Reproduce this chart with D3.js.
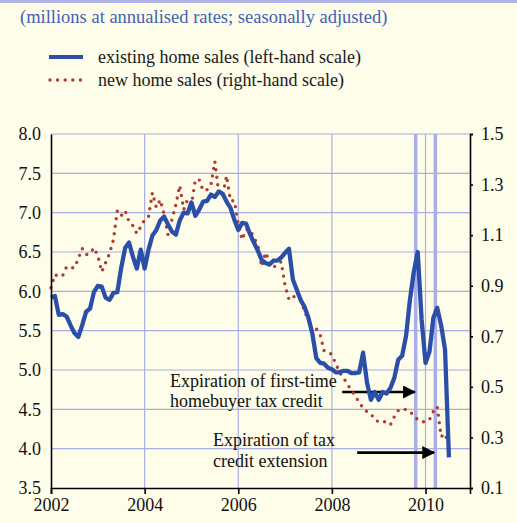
<!DOCTYPE html>
<html>
<head>
<meta charset="utf-8">
<script src="https://cdn.jsdelivr.net/npm/d3@7"></script>
<style>
  body { margin: 0; background: #fefde9; }
  svg { display: block; }
  text { font-family: "Liberation Serif", "Times New Roman", serif; }
</style>
</head>
<body>
<svg id="chart" width="517" height="523"></svg>
<script>
// monthly values, Jan 2002 onwards
var startYear = 2002;
var existingSales = [5.92,5.94,5.70,5.71,5.68,5.57,5.47,5.42,5.57,5.74,5.78,5.99,
  6.07,6.06,5.92,5.89,5.98,5.99,6.30,6.55,6.62,6.44,6.29,6.53,
  6.29,6.53,6.71,6.78,6.90,6.95,6.85,6.76,6.72,6.90,7.00,6.99,
  7.13,6.96,7.04,7.14,7.15,7.23,7.20,7.27,7.24,7.14,7.06,6.91,
  6.78,6.87,6.86,6.73,6.62,6.52,6.40,6.36,6.34,6.39,6.39,6.43,
  6.49,6.54,6.15,6.02,5.89,5.80,5.66,5.46,5.15,5.09,5.08,5.03,
  5.01,4.97,4.97,4.99,4.99,4.96,4.96,4.97,5.22,4.84,4.62,4.72,
  4.62,4.72,4.70,4.77,4.90,5.13,5.18,5.43,5.89,6.25,6.50,5.64,
  5.09,5.23,5.66,5.79,5.57,5.26,3.89];
var newSales = [0.892,0.944,0.936,0.940,0.975,0.971,0.971,1.007,1.047,1.023,1.027,1.050,
  1.019,0.955,0.991,1.027,1.082,1.197,1.177,1.197,1.153,1.137,1.106,1.133,
  1.161,1.173,1.268,1.209,1.240,1.181,1.102,1.161,1.220,1.296,1.201,1.240,
  1.220,1.319,1.319,1.276,1.280,1.300,1.391,1.268,1.256,1.335,1.236,1.236,
  1.145,1.082,1.122,1.122,1.090,1.062,0.975,1.031,0.995,0.971,0.987,0.995,
  0.900,0.845,0.849,0.876,0.845,0.798,0.766,0.703,0.730,0.706,0.643,0.639,
  0.627,0.591,0.556,0.536,0.508,0.489,0.461,0.441,0.414,0.402,0.394,0.370,
  0.362,0.366,0.358,0.350,0.382,0.406,0.414,0.410,0.402,0.386,0.370,0.362,
  0.362,0.370,0.402,0.422,0.303,0.315,0.268];

var yearTicks = [2002, 2004, 2006, 2008, 2010];
var leftTicks = [3.5, 4.0, 4.5, 5.0, 5.5, 6.0, 6.5, 7.0, 7.5, 8.0];
var rightTicks = [0.1, 0.3, 0.5, 0.7, 0.9, 1.1, 1.3, 1.5];
// tax credit expiry dates (vertical bands)
var expiryDates = [2009.79, 2010.21];
var notes = [
  {lines: ["Expiration of first-time", "homebuyer tax credit"], x: 2004.54, y: 4.785, from: 2008.22, to: 2009.77, ay: 4.72},
  {lines: ["Expiration of tax", "credit extension"], x: 2005.46, y: 4.03, from: 2008.54, to: 2010.18, ay: 3.95}
];

var svg = d3.select("#chart");
var plotL = 51, plotR = 470, plotT = 134, plotB = 488;

var x = d3.scaleLinear().domain([2002, 2010.95]).range([plotL, plotR]);
var yL = d3.scaleLinear().domain([3.5, 8]).range([plotB, plotT]);
var yR = d3.scaleLinear().domain([0.1, 1.5]).range([plotB, plotT]);

var gridColor = "#a8aee3";

// top band
svg.append("rect").attr("x", 0).attr("y", 0).attr("width", 517).attr("height", 3).attr("fill", "#b0b4e6");

// title + legend
svg.append("text").attr("x", 20).attr("y", 23).text("(millions at annualised rates; seasonally adjusted)")
  .style("font-size", "18.5px").attr("fill", "#4262b5");

svg.append("line").attr("x1", 49).attr("x2", 83).attr("y1", 57).attr("y2", 57)
  .attr("stroke", "#2b4fa8").attr("stroke-width", 4);
svg.append("text").attr("x", 98).attr("y", 63).text("existing home sales (left-hand scale)")
  .style("font-size", "18px").attr("fill", "#1a1a1a");
svg.append("line").attr("x1", 50).attr("x2", 84).attr("y1", 80).attr("y2", 80)
  .attr("stroke", "#b23a2f").attr("stroke-width", 3.4).attr("stroke-linecap", "round")
  .attr("stroke-dasharray", "0,7.6");
svg.append("text").attr("x", 98).attr("y", 86).text("new home sales (right-hand scale)")
  .style("font-size", "18px").attr("fill", "#1a1a1a");

// gridlines
svg.append("g").selectAll("line").data(leftTicks.slice(1)).enter().append("line")
  .attr("x1", plotL).attr("x2", plotR)
  .attr("y1", function(d) { return yL(d); }).attr("y2", function(d) { return yL(d); })
  .attr("stroke", gridColor).attr("stroke-width", 1.2);
svg.append("g").selectAll("line").data(yearTicks.slice(1)).enter().append("line")
  .attr("x1", function(d) { return x(d); }).attr("x2", function(d) { return x(d); })
  .attr("y1", plotT).attr("y2", plotB)
  .attr("stroke", gridColor).attr("stroke-width", 1.2);
svg.append("g").selectAll("line").data(expiryDates).enter().append("line")
  .attr("x1", function(d) { return x(d); }).attr("x2", function(d) { return x(d); })
  .attr("y1", plotT).attr("y2", plotB)
  .attr("stroke", "#a9aee8").attr("stroke-width", 3.5);

// annotations
var arrowDefs = svg.append("defs");
arrowDefs.append("marker").attr("id", "arr").attr("viewBox", "0 0 10 10")
  .attr("refX", 9).attr("refY", 5).attr("markerWidth", 5).attr("markerHeight", 5)
  .attr("orient", "auto").attr("markerUnits", "strokeWidth")
  .append("path").attr("d", "M0,0L10,5L0,10z").attr("fill", "#000");

notes.forEach(function(n) {
  n.lines.forEach(function(t, i) {
    svg.append("text").attr("x", x(n.x)).attr("y", yL(n.y) + i * 20.5).text(t)
      .style("font-size", "18px").attr("fill", "#111");
  });
  svg.append("line").attr("x1", x(n.from)).attr("x2", x(n.to))
    .attr("y1", yL(n.ay)).attr("y2", yL(n.ay))
    .attr("stroke", "#000").attr("stroke-width", 2.6).attr("marker-end", "url(#arr)");
});

// series
var lineL = d3.line()
  .x(function(d, i) { return x(startYear + i / 12); })
  .y(function(d) { return yL(d); });
var lineR = d3.line()
  .x(function(d, i) { return x(startYear + i / 12); })
  .y(function(d) { return yR(d); });

svg.append("path").datum(newSales)
  .attr("fill", "none").attr("stroke", "#b23a2f").attr("stroke-width", 3.4)
  .attr("stroke-linecap", "round").attr("stroke-dasharray", "0,7.6")
  .attr("d", lineR);

svg.append("path").datum(existingSales)
  .attr("fill", "none").attr("stroke", "#2b4fa8").attr("stroke-width", 4.3)
  .attr("stroke-linejoin", "round")
  .attr("d", lineL);

// axes
var axL = svg.append("g").attr("transform", "translate(" + plotL + ",0)")
  .call(d3.axisLeft(yL).tickValues(leftTicks).tickFormat(d3.format(".1f")).tickSize(0).tickPadding(10));
var axR = svg.append("g").attr("transform", "translate(" + plotR + ",0)")
  .call(d3.axisRight(yR).tickValues(rightTicks).tickFormat(d3.format(".1f")).tickSize(3).tickPadding(8));
var axB = svg.append("g").attr("transform", "translate(0," + plotB + ")")
  .call(d3.axisBottom(x).tickValues(yearTicks).tickFormat(d3.format("d")).tickSize(6).tickPadding(4));

[axL, axR, axB].forEach(function(a) {
  a.select(".domain").attr("stroke", "#000").attr("stroke-width", 1.6);
  a.selectAll(".tick line").attr("stroke", "#000").attr("stroke-width", 1.6);
  a.selectAll("text").style("font-size", "18px").style("font-family", "Liberation Serif, serif").attr("fill", "#111");
});
</script>
</body>
</html>
